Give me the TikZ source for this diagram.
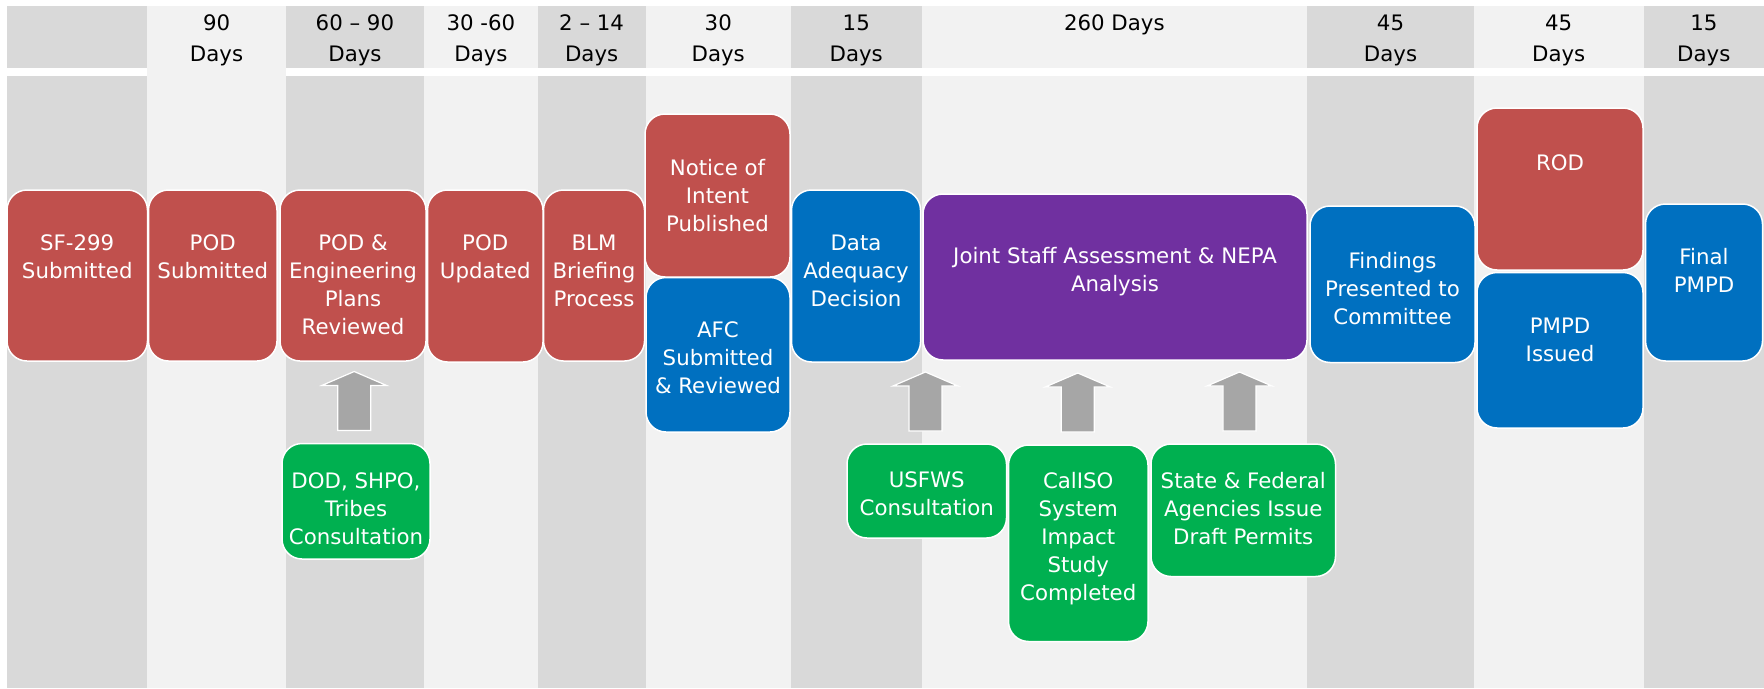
\documentclass[tikz,border=0pt]{standalone}
\usepackage{fontspec}
\setmainfont{DejaVu Sans}
\usetikzlibrary{calc}
\definecolor{cred}{HTML}{C0504D}
\definecolor{cblue}{HTML}{0070C0}
\definecolor{cpurple}{HTML}{7030A0}
\definecolor{cgreen}{HTML}{00B050}
\definecolor{cgray}{HTML}{D9D9D9}
\definecolor{clight}{HTML}{F2F2F2}
\definecolor{carrow}{HTML}{A6A6A6}
\tikzset{
  boxsty/.style={draw=white, line width=1.5pt, rounded corners=20pt, inner sep=0pt, outer sep=0pt},
  txt/.style={text=white, align=center, anchor=north, inner sep=0pt, font=\fontsize{21.3}{28}\selectfont},
  hdr/.style={text=black, align=center, anchor=north, inner sep=0pt, font=\fontsize{21.3}{31}\selectfont},
  garrow/.style={fill=carrow, draw=white, line width=1.2pt},
}
\newcommand\mybx[8]{%
  \node[boxsty, fill=#2, minimum width={#5-#3}, minimum height={#6-#4}] (#1) at ({(#3+#5)/2},{(#4+#6)/2}) {};
  \node[txt] (#1-t) at ({(#3+#5)/2},{#7-19.6}) {\strut #8};
}
\newcommand\myband[3]{%
  \fill[#3] (#1,6) rectangle (#2,67.7);
  \fill[#3] (#1,76) rectangle (#2,688);
}
\newcommand\myfullband[3]{%
  \fill[#3] (#1,6) rectangle (#2,688);
}
\newcommand\myhdr[4]{%
  \node[hdr] (#1) at ({(#2+#3)/2},8.3) {\strut #4};
}
\newcommand\myuparr[2]{%
  \draw[garrow] ($(#1.north)+(#2-16.5,-13)$) -- ++(0,-45) -- ++(-16,0) -- ++(32.5,-14)
     -- ++(32.5,14) -- ++(-16,0) -- ++(0,45) -- cycle;
}
\begin{document}
\begin{tikzpicture}[x=1pt,y=-1pt]
\useasboundingbox (0,0) rectangle (1764,688);
\fill[white] (0,0) rectangle (1764,688);
\myband{7}{147.4}{cgray}
\myfullband{147.4}{285.75}{clight}
\myband{285.75}{424.1}{cgray}
\myband{424.1}{537.75}{clight}
\myband{537.75}{645.5}{cgray}
\myband{645.5}{791}{clight}
\myband{791}{921.5}{cgray}
\myband{921.5}{1307.25}{clight}
\myband{1307.25}{1473.75}{cgray}
\myband{1473.75}{1643.6}{clight}
\myband{1643.6}{1764}{cgray}
\myhdr{hA}{147.4}{285.75}{90\\Days}
\myhdr{hB}{285.75}{424.1}{60 – 90\\Days}
\myhdr{hC}{424.1}{537.75}{30 -60\\Days}
\myhdr{hD}{537.75}{645.5}{2 – 14\\Days}
\myhdr{hE}{645.5}{791}{30\\Days}
\myhdr{hF}{791}{921.5}{15\\Days}
\myhdr{hG}{921.5}{1307.25}{260 Days}
\myhdr{hH}{1307.25}{1473.75}{45\\Days}
\myhdr{hI}{1473.75}{1643.6}{45\\Days}
\myhdr{hJ}{1643.6}{1764}{15\\Days}
\mybx{sf}{cred}{7}{190}{147.5}{361}{250}{SF-299\\Submitted}
\mybx{pods}{cred}{148.5}{190}{277}{361}{250}{POD\\Submitted}
\mybx{pode}{cred}{280}{190}{426}{361}{250}{POD \&\\Engineering\\Plans\\Reviewed}
\mybx{podu}{cred}{427.5}{190}{543}{362}{250}{POD\\Updated}
\mybx{blm}{cred}{543.5}{190}{644.5}{361}{250}{BLM\\Briefing\\Process}
\mybx{noi}{cred}{645}{114}{790}{277}{175}{Notice of\\Intent\\Published}
\mybx{afc}{cblue}{646}{277.5}{790}{432}{337}{AFC\\Submitted\\\& Reviewed}
\mybx{data}{cblue}{791.5}{190}{920.5}{362}{250}{Data\\Adequacy\\Decision}
\mybx{joint}{cpurple}{923}{194}{1307}{360}{263}{Joint Staff Assessment \& NEPA\\Analysis}
\mybx{find}{cblue}{1310}{206}{1475}{362.5}{268}{Findings\\Presented to\\Committee}
\mybx{rod}{cred}{1477}{108}{1643}{270}{170}{ROD}
\mybx{pmpd}{cblue}{1477}{272.5}{1643}{428}{333}{PMPD\\Issued}
\mybx{final}{cblue}{1645.5}{204}{1762.5}{361}{264}{Final\\PMPD}
\mybx{dod}{cgreen}{282}{443.5}{430}{559}{488}{DOD, SHPO,\\Tribes\\Consultation}
\mybx{usf}{cgreen}{847}{444}{1006.5}{538}{487}{USFWS\\Consultation}
\mybx{cal}{cgreen}{1008.5}{445}{1148}{641.5}{488}{CalISO\\System\\Impact\\Study\\Completed}
\mybx{state}{cgreen}{1151}{444}{1335.5}{576.5}{488}{State \& Federal\\Agencies Issue\\Draft Permits}
\myuparr{dod}{-1.8}
\myuparr{usf}{-1.3}
\myuparr{cal}{-0.5}
\myuparr{state}{-3.8}
\end{tikzpicture}
\end{document}
